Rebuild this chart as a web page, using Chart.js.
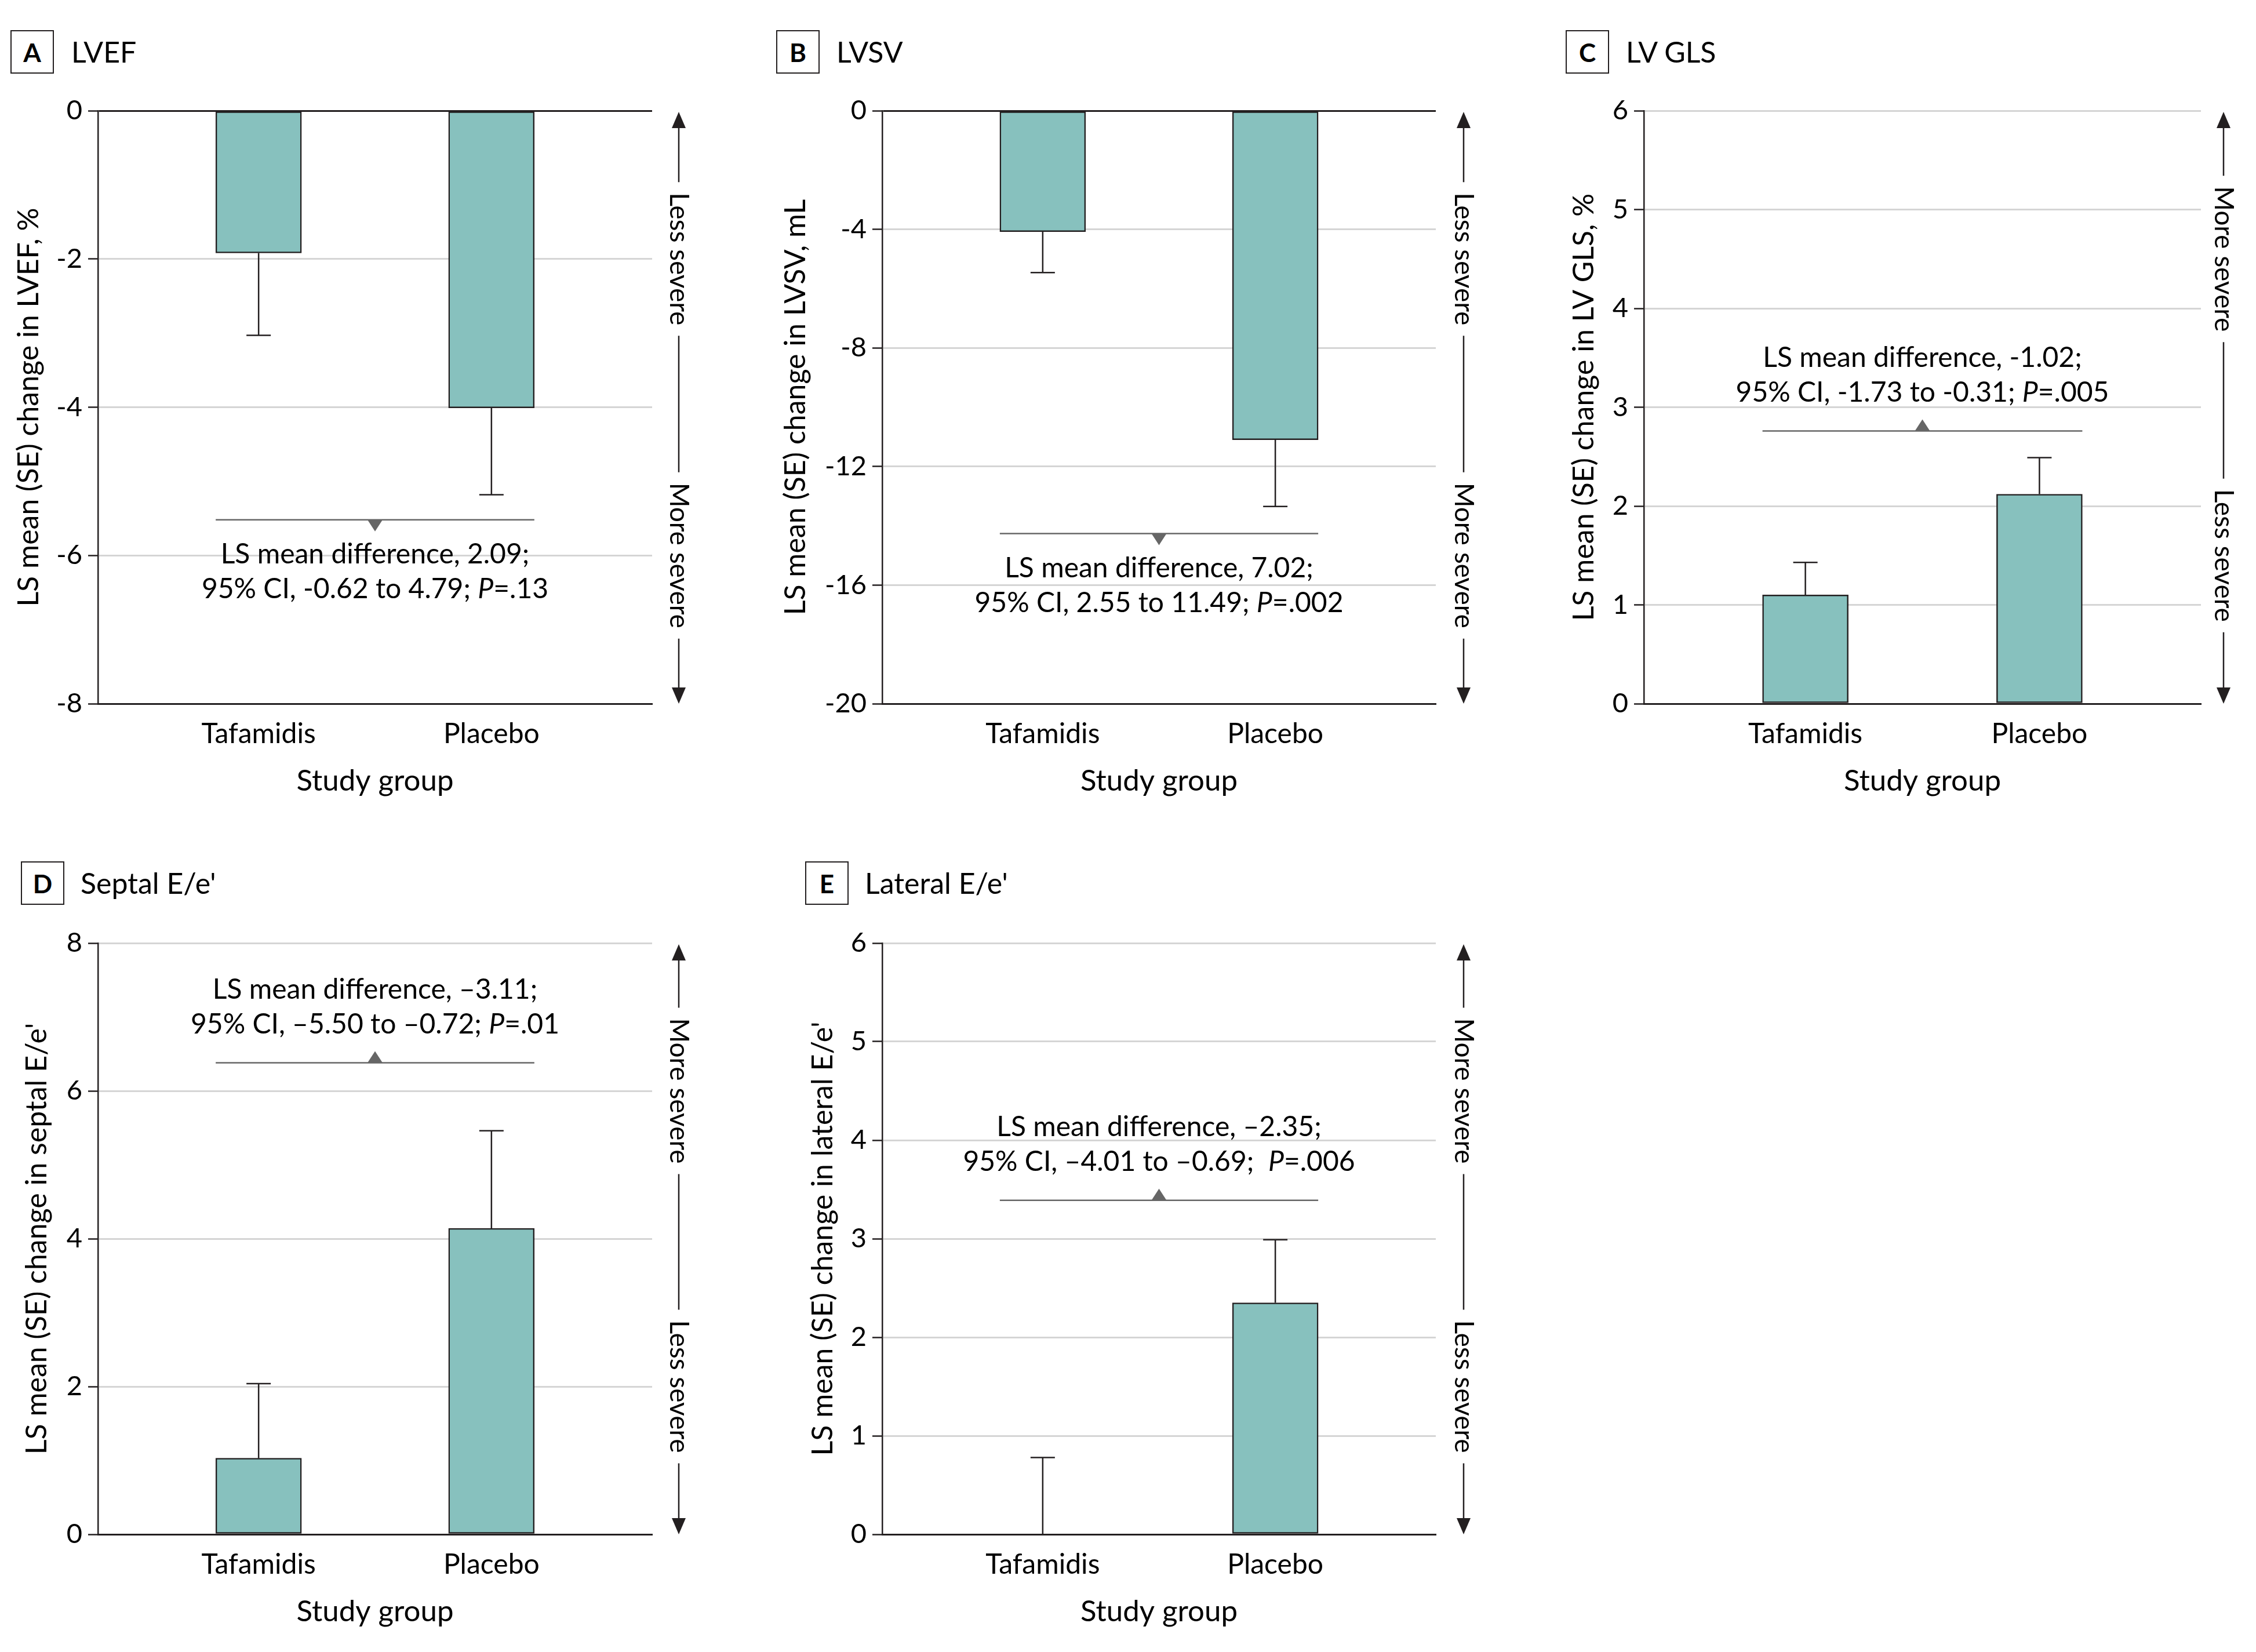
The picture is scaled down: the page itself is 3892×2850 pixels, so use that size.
<!DOCTYPE html>
<html>
<head>
<meta charset="utf-8">
<script src="https://cdn.jsdelivr.net/npm/chart.js@4.4.1/dist/chart.umd.min.js"></script>
<style>
  body{margin:0;background:#fff;width:3892px;height:2850px;position:relative;overflow:hidden;font-family:Lato, sans-serif;color:#000}
  .box{position:absolute;width:75px;height:75px;border:2.5px solid #231f20;box-sizing:border-box;font-weight:bold;font-size:44px;display:flex;align-items:center;justify-content:center}
  .ttl{position:absolute;font-size:50px;line-height:75px;white-space:nowrap}
  canvas{position:absolute}
</style>
</head>
<body>
<div class="box" style="left:18px;top:52px">A</div><div class="ttl" style="left:123px;top:52px">LVEF</div>
<div class="box" style="left:1339px;top:52px">B</div><div class="ttl" style="left:1443px;top:52px">LVSV</div>
<div class="box" style="left:2701px;top:52px">C</div><div class="ttl" style="left:2805px;top:52px">LV GLS</div>
<div class="box" style="left:36px;top:1486px">D</div><div class="ttl" style="left:139px;top:1486px">Septal E/e'</div>
<div class="box" style="left:1389px;top:1486px">E</div><div class="ttl" style="left:1492px;top:1486px">Lateral E/e'</div>

<canvas id="cA" width="1300" height="1320" style="left:0;top:130px"></canvas>
<canvas id="cB" width="1300" height="1320" style="left:1300px;top:130px"></canvas>
<canvas id="cC" width="1292" height="1320" style="left:2600px;top:130px"></canvas>
<canvas id="cD" width="1300" height="1270" style="left:0;top:1580px"></canvas>
<canvas id="cE" width="1300" height="1270" style="left:1300px;top:1580px"></canvas>

<script>
const groups = ["Tafamidis", "Placebo"];

// LS mean change and SE per group
const lvefMean = [-1.92, -4.01];
const lvefSE = [1.11, 1.17];
const lvsvMean = [-4.08, -11.10];
const lvsvSE = [1.38, 2.25];
const glsMean = [1.10, 2.12];
const glsSE = [0.33, 0.37];
const septalMean = [1.03, 4.14];
const septalSE = [1.01, 1.32];
const lateralMean = [0.00, 2.35];
const lateralSE = [0.78, 0.64];

// y tick values
const lvefTicks = [0, -2, -4, -6, -8];
const lvsvTicks = [0, -4, -8, -12, -16, -20];
const glsTicks = [0, 1, 2, 3, 4, 5, 6];
const septalTicks = [0, 2, 4, 6, 8];
const lateralTicks = [0, 1, 2, 3, 4, 5, 6];

// level of the difference bracket
const lvefBracket = -5.52;
const lvsvBracket = -14.26;
const glsBracket = 2.76;
const septalBracket = 6.38;
const lateralBracket = 3.39;

// annotation text: [line1, line2 before P, after P]
const lvefNote = ["LS mean difference, 2.09;", "95% CI, -0.62 to 4.79; ", "=.13"];
const lvsvNote = ["LS mean difference, 7.02;", "95% CI, 2.55 to 11.49; ", "=.002"];
const glsNote = ["LS mean difference, -1.02;", "95% CI, -1.73 to -0.31; ", "=.005"];
const septalNote = ["LS mean difference, \u20133.11;", "95% CI, \u20135.50 to \u20130.72; ", "=.01"];
const lateralNote = ["LS mean difference, \u20132.35;", "95% CI, \u20134.01 to \u20130.69;  ", "=.006"];

const teal = "#87c1be";
const ink = "#231f20";
const txt = "#000";
const gridGray = "#d5d5d5";
const bracketGray = "#666666";
const FONT = "Lato";

function drawNote(ctx, note, cx, y1, y2) {
  const fN = "48px " + FONT, fI = "italic 48px " + FONT;
  ctx.fillStyle = txt;
  ctx.textBaseline = "middle";
  ctx.font = fN;
  ctx.textAlign = "center";
  ctx.fillText(note[0], cx, y1);
  const w1 = ctx.measureText(note[1]).width;
  const w3 = ctx.measureText(note[2]).width;
  ctx.font = fI;
  const w2 = ctx.measureText("P").width;
  let x = cx - (w1 + w2 + w3) / 2;
  ctx.textAlign = "left";
  ctx.font = fN; ctx.fillText(note[1], x, y2); x += w1;
  ctx.font = fI; ctx.fillText("P", x, y2); x += w2;
  ctx.font = fN; ctx.fillText(note[2], x, y2);
}

function makePanel(id, o) {
  const cv = document.getElementById(id);
  const W = cv.width, H = cv.height;

  const extras = {
    id: "extras" + id,
    afterDatasetsDraw(chart) {
      const ctx = chart.ctx;
      const xs = chart.scales.x, ys = chart.scales.y;
      const area = chart.chartArea;
      const bars = chart.getDatasetMeta(0).data;
      ctx.save();

      // error bars
      ctx.strokeStyle = ink;
      ctx.lineWidth = 2.5;
      o.mean.forEach((m, i) => {
        const x = xs.getPixelForValue(i);
        const dir = m < 0 ? -1 : 1;
        const y0 = ys.getPixelForValue(m);
        const y1 = ys.getPixelForValue(m + dir * o.se[i]);
        ctx.beginPath();
        ctx.moveTo(x, y0); ctx.lineTo(x, y1);
        ctx.moveTo(x - 21, y1); ctx.lineTo(x + 21, y1);
        ctx.stroke();
      });

      // difference bracket
      const xl = bars[0].x - bars[0].width / 2;
      const xr = bars[1].x + bars[1].width / 2;
      const yb = ys.getPixelForValue(o.bracket);
      const cx = (xl + xr) / 2;
      ctx.strokeStyle = bracketGray;
      ctx.lineWidth = 2.5;
      ctx.beginPath(); ctx.moveTo(xl, yb); ctx.lineTo(xr, yb); ctx.stroke();
      ctx.fillStyle = bracketGray;
      const s = o.noteBelow ? 1 : -1;
      ctx.beginPath();
      ctx.moveTo(cx - 13, yb); ctx.lineTo(cx + 13, yb); ctx.lineTo(cx, yb + s * 20);
      ctx.closePath(); ctx.fill();
      if (o.noteBelow) drawNote(ctx, o.note, cx, yb + 60, yb + 120);
      else drawNote(ctx, o.note, cx, yb - 126, yb - 66);

      // severity arrows on the right
      const ax = area.right + o.arrowDx;
      const top = area.top + 2, bot = area.bottom;
      const c1 = area.top + (area.bottom - area.top) * 0.25;
      const c2 = area.top + (area.bottom - area.top) * 0.75;
      ctx.font = "46px " + FONT;
      const t1 = ctx.measureText(o.sev[0]).width, t2 = ctx.measureText(o.sev[1]).width;
      const gap = 18, head = 28;
      ctx.strokeStyle = ink; ctx.fillStyle = ink; ctx.lineWidth = 2.5;
      ctx.beginPath();
      ctx.moveTo(ax, top + head - 2); ctx.lineTo(ax, c1 - t1 / 2 - gap);
      ctx.moveTo(ax, c1 + t1 / 2 + gap); ctx.lineTo(ax, c2 - t2 / 2 - gap);
      ctx.moveTo(ax, c2 + t2 / 2 + gap); ctx.lineTo(ax, bot - head + 2);
      ctx.stroke();
      ctx.beginPath(); ctx.moveTo(ax, top); ctx.lineTo(ax - 12, top + head); ctx.lineTo(ax + 12, top + head); ctx.closePath(); ctx.fill();
      ctx.beginPath(); ctx.moveTo(ax, bot); ctx.lineTo(ax - 12, bot - head); ctx.lineTo(ax + 12, bot - head); ctx.closePath(); ctx.fill();
      ctx.fillStyle = txt;
      ctx.textAlign = "center"; ctx.textBaseline = "middle";
      [[o.sev[0], c1], [o.sev[1], c2]].forEach(([t, cy]) => {
        ctx.save(); ctx.translate(ax, cy); ctx.rotate(Math.PI / 2);
        ctx.fillText(t, 0, 0); ctx.restore();
      });
      ctx.restore();
    }
  };

  return new Chart(cv, {
    type: "bar",
    data: {
      datasets: [{
        data: o.mean.map((v, i) => ({ x: i, y: v })),
        backgroundColor: teal,
        borderColor: ink,
        borderWidth: 2.5,
        borderSkipped: false,
        barThickness: 148
      }]
    },
    options: {
      responsive: false,
      animation: false,
      devicePixelRatio: 1,
      layout: { padding: { left: 0, right: W - o.right, top: o.top, bottom: 0 } },
      plugins: { legend: { display: false }, tooltip: { enabled: false } },
      scales: {
        x: {
          type: "linear", min: -0.69, max: 1.69, offset: false,
          afterBuildTicks: sc => { sc.ticks = groups.map((g, i) => ({ value: i })); },
          afterFit: sc => { sc.height = H - o.bottom; },
          grid: { display: false, drawTicks: false, offset: false },
          border: { color: ink, width: 3 },
          ticks: { callback: v => groups[v], font: { family: FONT, size: 48 }, color: txt, padding: 24, maxRotation: 0, autoSkip: false },
          title: { display: true, text: "Study group", font: { family: FONT, size: 51 }, color: txt, padding: { top: 0, bottom: o.xtPad } }
        },
        y: {
          min: Math.min(...o.ticks), max: Math.max(...o.ticks),
          afterBuildTicks: sc => { sc.ticks = o.ticks.map(v => ({ value: v })); },
          afterFit: sc => { sc.width = o.left; },
          grid: {
            color: c => (c.tick && c.tick.value === 0 ? ink : gridGray),
            lineWidth: 3, tickColor: ink, tickLength: 17, tickWidth: 2.5
          },
          border: { color: ink, width: 2.5 },
          ticks: { font: { family: FONT, size: 47 }, color: txt, padding: 10 },
          title: { display: true, text: o.ytitle, font: { family: FONT, size: 50 }, color: txt, padding: { top: o.ytPad, bottom: 0 } }
        }
      }
    },
    plugins: [extras]
  });
}

const row1 = { top: 61, bottom: 1084, xtPad: 72 };
const row2 = { top: 47, bottom: 1067, xtPad: 39 };

makePanel("cA", Object.assign({}, row1, {
  mean: lvefMean, se: lvefSE, ticks: lvefTicks, bracket: lvefBracket, note: lvefNote, noteBelow: true,
  left: 169, right: 1125, arrowDx: 46, ytPad: 20, ytitle: "LS mean (SE) change in LVEF, %", sev: ["Less severe", "More severe"]
}));
makePanel("cB", Object.assign({}, row1, {
  mean: lvsvMean, se: lvsvSE, ticks: lvsvTicks, bracket: lvsvBracket, note: lvsvNote, noteBelow: true,
  left: 222, right: 1177, arrowDx: 48, ytPad: 43, ytitle: "LS mean (SE) change in LVSV, mL", sev: ["Less severe", "More severe"]
}));
makePanel("cC", Object.assign({}, row1, {
  mean: glsMean, se: glsSE, ticks: glsTicks, bracket: glsBracket, note: glsNote, noteBelow: false,
  left: 236, right: 1197, arrowDx: 39, ytPad: 103, ytitle: "LS mean (SE) change in LV GLS, %", sev: ["More severe", "Less severe"]
}));
makePanel("cD", Object.assign({}, row2, {
  mean: septalMean, se: septalSE, ticks: septalTicks, bracket: septalBracket, note: septalNote, noteBelow: false,
  left: 169, right: 1125, arrowDx: 46, ytPad: 34, ytitle: "LS mean (SE) change in septal E/e'", sev: ["More severe", "Less severe"]
}));
makePanel("cE", Object.assign({}, row2, {
  mean: lateralMean, se: lateralSE, ticks: lateralTicks, bracket: lateralBracket, note: lateralNote, noteBelow: false,
  left: 222, right: 1177, arrowDx: 48, ytPad: 90, ytitle: "LS mean (SE) change in lateral E/e'", sev: ["More severe", "Less severe"]
}));
</script>
</body>
</html>
